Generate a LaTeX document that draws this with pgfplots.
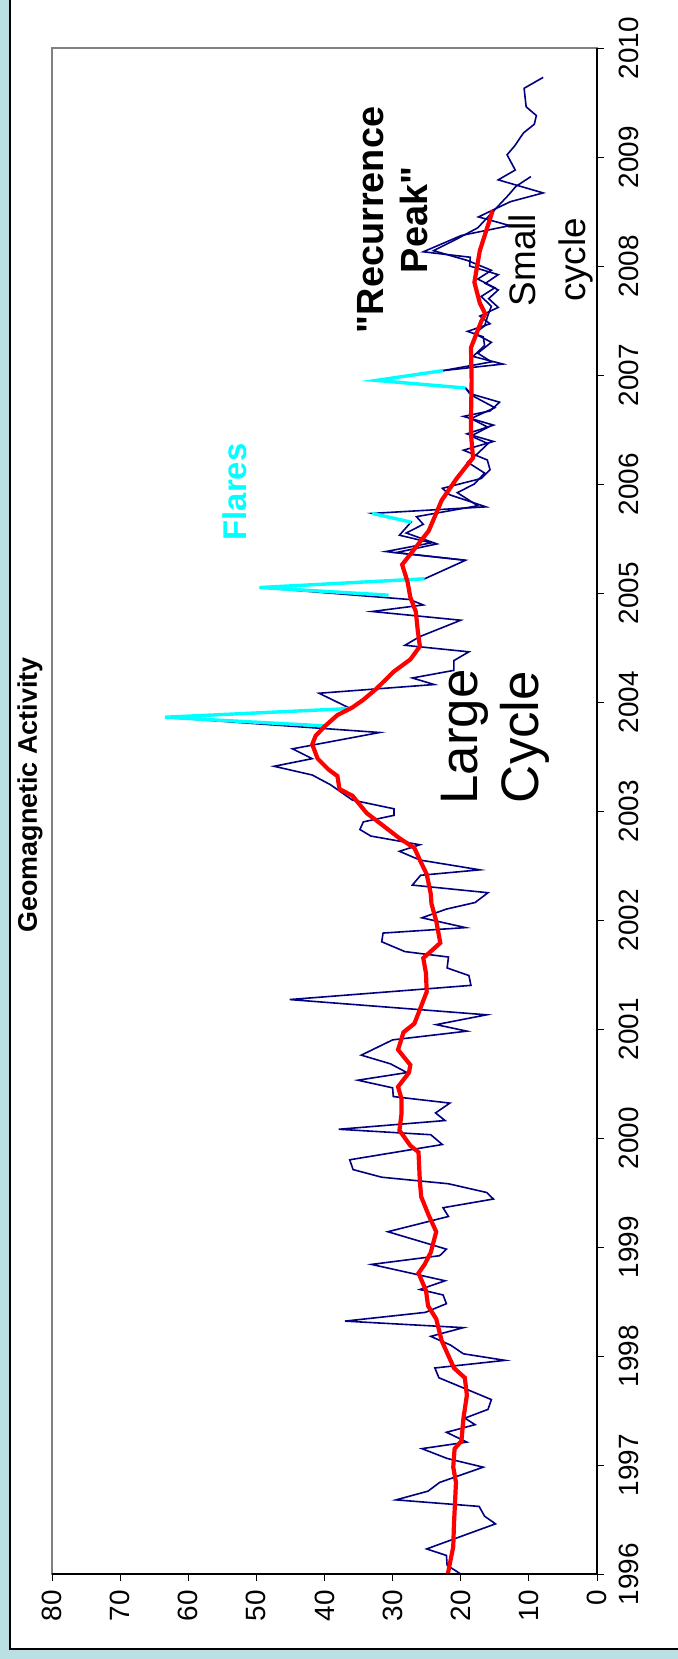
\documentclass[border=0pt]{standalone}
\usepackage{fontspec}
\setmainfont{Liberation Sans}
\usepackage{pgfplots}
\pgfplotsset{compat=1.18}
\usepackage{pgfplotstable}
\definecolor{bgblue}{RGB}{186,224,228}
\definecolor{navy}{RGB}{0,0,128}
\definecolor{flare}{RGB}{0,255,255}
\definecolor{avgred}{RGB}{255,0,0}
\newcommand\sq{\XeTeXglyph\XeTeXcharglyph"22\relax}

\pgfplotstableread{
val year
20.0 1996.00
22.0 1996.08
22.1 1996.17
25.0 1996.23
14.9 1996.46
16.5 1996.53
17.3 1996.62
29.5 1996.68
24.8 1996.76
23.1 1996.84
16.7 1996.98
22.0 1997.06
25.7 1997.15
19.1 1997.21
22.1 1997.30
17.9 1997.37
19.4 1997.43
16.0 1997.51
15.5 1997.60
23.2 1997.80
23.8 1997.89
13.5 1997.96
19.6 1998.02
21.5 1998.10
24.4 1998.18
19.6 1998.26
37.0 1998.32
25.2 1998.40
22.1 1998.48
22.6 1998.56
26.0 1998.61
22.3 1998.69
33.1 1998.84
23.1 1998.92
22.1 1998.98
30.7 1999.14
21.8 1999.28
22.6 1999.36
15.2 1999.44
16.2 1999.50
21.8 1999.58
31.6 1999.64
35.8 1999.71
36.3 1999.80
22.7 1999.94
24.4 2000.03
37.9 2000.08
22.3 2000.16
23.7 2000.23
21.6 2000.32
29.9 2000.38
30.0 2000.46
35.1 2000.53
27.9 2000.60
30.3 2000.68
34.6 2000.76
30.0 2000.90
19.1 2000.98
23.6 2001.04
16.2 2001.13
45.1 2001.27
18.5 2001.40
18.8 2001.49
22.0 2001.56
21.8 2001.66
28.2 2001.71
31.6 2001.80
31.4 2001.88
19.3 2001.93
25.7 2002.02
22.1 2002.10
17.9 2002.16
16.0 2002.25
27.1 2002.32
25.9 2002.41
17.2 2002.46
26.0 2002.55
29.0 2002.63
26.0 2002.69
33.2 2002.77
34.8 2002.83
34.3 2002.90
29.8 2002.96
29.8 2003.02
35.9 2003.10
39.1 2003.24
41.8 2003.33
47.4 2003.41
41.8 2003.48
44.7 2003.57
31.9 2003.72
63.4 2003.86
36.2 2003.94
40.8 2004.08
23.9 2004.16
27.1 2004.22
21.0 2004.29
21.0 2004.38
18.8 2004.46
28.2 2004.52
26.0 2004.60
20.0 2004.75
33.0 2004.83
25.5 2004.89
27.5 2004.94
49.5 2005.05
25.3 2005.13
19.3 2005.30
31.0 2005.38
24.3 2005.46
29.0 2005.53
27.3 2005.65
33.0 2005.73
16.3 2005.79
21.6 2005.90
22.7 2005.96
17.0 2006.05
15.7 2006.13
16.1 2006.22
19.6 2006.31
15.2 2006.39
19.1 2006.46
15.2 2006.54
19.6 2006.62
15.7 2006.67
14.3 2006.75
18.7 2006.83
19.3 2006.88
32.4 2006.95
22.6 2007.04
13.8 2007.10
18.2 2007.17
16.5 2007.27
16.7 2007.35
19.0 2007.40
15.7 2007.47
17.2 2007.54
14.5 2007.62
15.9 2007.70
14.5 2007.78
16.4 2007.84
14.5 2007.92
18.7 2008.00
18.6 2008.08
25.5 2008.13
19.9 2008.28
12.8 2008.37
17.4 2008.45
12.7 2008.59
7.9 2008.67
14.5 2008.79
12.0 2008.88
13.2 2009.02
12.1 2009.10
10.8 2009.22
9.2 2009.30
8.9 2009.38
10.4 2009.46
10.7 2009.63
7.9 2009.73
}\maindata

\pgfplotstableread{
val year
19.3 2005.30
29.5 2005.37
23.5 2005.45
28.0 2005.55
25.5 2005.63
26.5 2005.70
17.5 2005.80
20.5 2005.92
18.0 2006.00
16.5 2006.10
19.0 2006.20
17.5 2006.28
16.0 2006.37
18.5 2006.44
16.0 2006.52
18.5 2006.60
15.0 2006.70
18.0 2006.80
19.3 2006.88
}\seconddataA

\pgfplotstableread{
val year
22.6 2007.04
15.5 2007.12
17.5 2007.20
15.5 2007.30
18.0 2007.38
16.5 2007.45
16.0 2007.55
15.5 2007.63
17.0 2007.72
15.0 2007.80
17.5 2007.88
15.5 2007.96
19.0 2008.05
24.0 2008.14
20.5 2008.25
17.5 2008.35
16.0 2008.45
14.5 2008.55
13.0 2008.65
11.9 2008.73
9.7 2008.82
}\seconddataB

\pgfplotstableread{
val year
21.9 1996.00
21.1 1996.25
21.0 1996.45
20.7 1996.84
21.1 1996.98
20.9 1997.15
19.9 1997.22
19.6 1997.43
19.1 1997.64
19.4 1997.80
21.0 1997.89
22.8 1998.14
23.6 1998.34
24.8 1998.46
25.1 1998.60
26.2 1998.76
25.3 1998.84
24.4 1998.95
23.6 1999.14
24.7 1999.29
25.8 1999.46
26.0 1999.60
26.2 1999.87
27.4 1999.93
29.0 2000.07
28.7 2000.22
28.7 2000.36
29.2 2000.47
27.6 2000.60
27.4 2000.67
29.2 2000.81
28.4 2000.97
26.8 2001.05
25.0 2001.34
25.1 2001.51
25.5 2001.65
23.0 2001.79
23.6 2001.99
24.3 2002.15
24.4 2002.24
25.0 2002.42
26.0 2002.55
26.8 2002.66
29.0 2002.75
31.9 2002.89
33.8 2002.98
35.9 2003.14
37.8 2003.20
38.1 2003.32
39.4 2003.38
41.0 2003.48
41.8 2003.61
41.3 2003.69
39.9 2003.78
38.1 2003.88
35.9 2003.95
34.3 2004.02
32.4 2004.12
29.8 2004.28
27.4 2004.39
26.0 2004.51
26.3 2004.65
26.6 2004.83
27.4 2004.96
27.8 2005.10
28.6 2005.26
24.7 2005.57
22.8 2005.85
20.6 2006.05
18.2 2006.24
18.5 2006.46
18.5 2006.60
18.4 2006.95
18.5 2007.25
17.0 2007.49
16.4 2007.56
17.2 2007.66
18.0 2007.85
17.2 2008.14
15.3 2008.51
}\avgdata

\begin{document}
\begin{tikzpicture}[x=1bp,y=1bp]
\fill[bgblue] (0,0) rectangle (678,1659);
\useasboundingbox (0,0) rectangle (678,1659);
\begin{scope}
\clip (0,0) rectangle (678,1659);
\filldraw[fill=white, draw=black, line width=2bp] (9.5,9.5) rectangle (700,1680);
\end{scope}
\begin{axis}[
  at={(52bp,85bp)}, anchor=south west,
  scale only axis, width=545bp, height=1526bp,
  x dir=reverse,
  xmin=0, xmax=80, ymin=1996, ymax=2010,
  xtick={0,10,...,80}, ytick={1996,1997,...,2010},
  tick align=outside, major tick length=7bp,
  xtick pos=left, ytick pos=right,
  tick style={black, line width=0.8bp},
  axis line style={draw=gray, line width=1.2bp},
  xticklabel style={rotate=90, anchor=east, font=\fontsize{28}{30}\selectfont, inner sep=3bp},
  yticklabel style={rotate=90, anchor=north, font=\fontsize{28}{30}\selectfont, inner sep=3bp},
  xticklabel shift=6bp,
  yticklabel shift=12bp,
  /pgf/number format/1000 sep={},
  /pgf/number format/assume math mode=true,
  clip=false,
]
\addplot[navy, line width=1.6bp] table[x=val, y=year] {\maindata};
\addplot[navy, line width=1.6bp] table[x=val, y=year] {\seconddataA};
\addplot[navy, line width=1.6bp] table[x=val, y=year] {\seconddataB};
\addplot[flare, line width=3.4bp] coordinates {(39.9,2003.78) (63.4,2003.86) (36.2,2003.94)};
\addplot[flare, line width=3.4bp] coordinates {(30.6,2004.98) (49.5,2005.05) (25.3,2005.13)};
\addplot[flare, line width=3.4bp] coordinates {(27.3,2005.65) (33.0,2005.73)};
\addplot[flare, line width=3.4bp] coordinates {(19.3,2006.88) (32.4,2006.95) (22.6,2007.04)};
\addplot[avgred, line width=4.2bp] table[x=val, y=year] {\avgdata};
\draw[black, line width=1.2bp] (axis cs:80,1996) -- (axis cs:0,1996) -- (axis cs:0,2010);
\end{axis}
\node[rotate=90, font=\bfseries\fontsize{27}{30}\selectfont] at (30,864) {Geomagnetic Activity};
\node[rotate=90, text=flare, font=\bfseries\fontsize{33}{36}\selectfont] at (235,1167) {Flares};
\node[rotate=90, align=center, font=\bfseries\fontsize{38}{44}\selectfont] at (393,1439) {\sq Recurrence\\Peak\sq};
\node[rotate=90, align=center, font=\fontsize{53}{61}\selectfont] at (495,922) {Large\\Cycle};
\node[rotate=90, align=center, font=\fontsize{37}{50}\selectfont] at (551,1399) {Small\\cycle};
\end{tikzpicture}
\end{document}
